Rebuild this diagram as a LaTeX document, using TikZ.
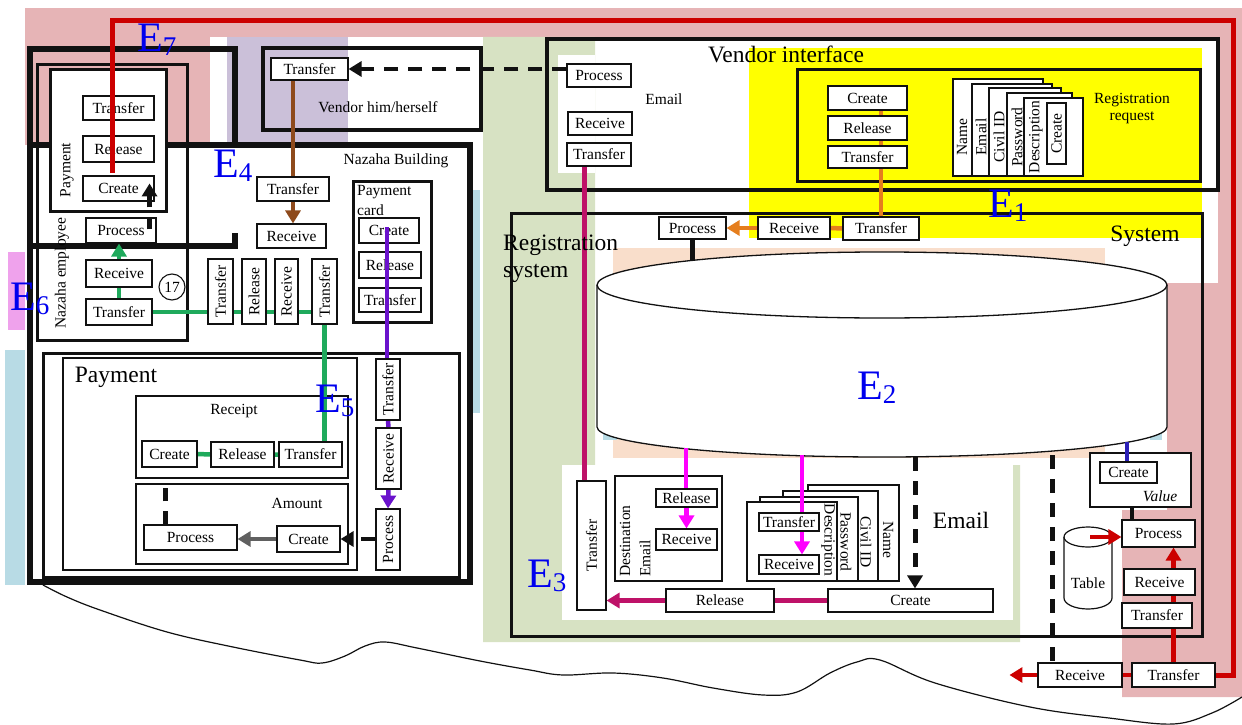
\documentclass[tikz,border=0pt]{standalone}
\usepackage{fontspec}
\setmainfont{Liberation Serif}
\usepackage{graphicx}
\usetikzlibrary{arrows.meta,calc,positioning}
\definecolor{ink}{HTML}{111111}
\definecolor{rosebg}{HTML}{E6B4B6}
\definecolor{lavbg}{HTML}{CBC0D9}
\definecolor{sagebg}{HTML}{D7E2C3}
\definecolor{peachbg}{HTML}{F9DECB}
\definecolor{yelbg}{HTML}{FFFF00}
\definecolor{magbg}{HTML}{EFA2EC}
\definecolor{skybg}{HTML}{B8DBE5}
\definecolor{ered}{HTML}{CC0000}
\definecolor{ebrown}{HTML}{8E4A1C}
\definecolor{egreen}{HTML}{1FAA5C}
\definecolor{epurple}{HTML}{6A12CC}
\definecolor{eorange}{HTML}{E57E1E}
\definecolor{ecrim}{HTML}{BE1268}
\definecolor{emag}{HTML}{FF00FF}
\definecolor{evalue}{HTML}{2B20B8}
\definecolor{egray}{HTML}{606060}
\definecolor{eblue}{HTML}{0000EE}
\pgfdeclarelayer{fills}
\pgfdeclarelayer{links}
\pgfsetlayers{fills,links,main}
\tikzset{
  bx/.style={draw=ink,fill=white,line width=1.1pt,inner sep=0pt,font=\fontsize{15.5}{17}\selectfont},
  lbl/.style={inner sep=0pt,font=\fontsize{15.5}{17}\selectfont},
  big/.style={inner sep=0pt,font=\fontsize{23.5}{26}\selectfont},
  elbl/.style={inner sep=0pt,text=eblue,anchor=base west,font=\fontsize{42}{42}\selectfont},
  ln/.style={line width=4.5pt},
  arr/.style={line width=4.5pt,->},
  dsh/.style={ink,line width=5pt,dash pattern=on 14pt off 10pt},
  card/.style={draw=ink,fill=white,line width=1.2pt},
}

\begin{document}
\begin{tikzpicture}[x=1pt,y=-1pt,>={Triangle[length=13pt,width=15pt]}]
  \newcommand{\bxh}[6]{%
    \node[bx,minimum width={(#4-#2)*1pt},minimum height={(#5-#3)*1pt}] (#1) at ({(#2+#4)/2},{(#3+#5)/2}) {#6};}
  \newcommand{\bxv}[6]{%
    \node[bx,minimum width={(#4-#2)*1pt},minimum height={(#5-#3)*1pt}] (#1) at ({(#2+#4)/2},{(#3+#5)/2}) {\rotatebox{90}{#6}};}
  \newcommand{\elab}[4]{%
    \node[elbl] (#1) at (#2,#3) {E\raisebox{-4pt}{\fontsize{27}{27}\selectfont #4}};}
  \useasboundingbox (0,0) rectangle (1242,725);

  \begin{pgfonlayer}{fills}
    % coloured zones
    \fill[rosebg] (25,8) rectangle (1242,37);
    \fill[rosebg] (25,37) rectangle (210,145);
    \fill[lavbg] (227,37) rectangle (348,145);
    \fill[rosebg] (1218,37) -- (1242,37) -- (1242,697) -- (1122,697) -- (1122,510)
      -- (1167,510) -- (1167,283) -- (1218,283) -- cycle;
    \fill[sagebg] (483,37) -- (595,37) -- (595,465) -- (1020,465) -- (1020,642) -- (483,642) -- cycle;
    \fill[white] (562,465) rectangle (1013,620);
    \fill[white] (558,55) rectangle (595,173);
    \fill[yelbg] (749,48) rectangle (1202,238);
    \fill[peachbg] (613,248) rectangle (1105,458);
    \fill[magbg] (8,252) rectangle (25,330);
    \fill[skybg] (5,350) rectangle (25,585);
    \fill[skybg] (473,190) rectangle (480,413);
    \fill[skybg] (603,432) rectangle (617,440);
    \fill[skybg] (1150,430) rectangle (1162,440);
    % frames
    \draw[ink,line width=6pt] (235,145) -- (235,49) -- (30,49) -- (30,246) -- (235,246) -- (235,233);
    \draw[ink,line width=6pt] (30,145) rectangle (470,582);
    \draw[ink,line width=3pt] (37,65) rectangle (187,340);
    \draw[ink,line width=3pt,fill=white] (50,70) rectangle (166,211);
    \draw[ink,line width=4pt] (263,48) rectangle (481,130);
    \draw[ink,line width=3pt] (353,181) rectangle (431,322);
    \draw[ink,line width=3pt] (43,353) rectangle (459,577);
    \draw[ink,line width=1.5pt] (63,358) rectangle (357,570);
    \draw[ink,line width=2pt] (136,396) rectangle (348,478);
    \draw[ink,line width=2pt] (136,484) rectangle (348,564);
    \draw[ink,line width=4pt] (547,39) rectangle (1218,190);
    \draw[ink,line width=3pt] (797,70) rectangle (1200,181);
    \draw[ink,line width=3pt] (511,213) rectangle (1202,636);
    \draw[ink,line width=2pt,fill=white] (1090,453) rectangle (1191,507);
    \draw[ink,line width=1.5pt,fill=white] (615,476) rectangle (722,581);
    % database
    \filldraw[fill=white,draw=ink,line width=1.3pt] (597,285) -- (597,427)
      arc[start angle=180,end angle=0,x radius=285,y radius=30] -- (1167,285);
    \draw[fill=white,draw=ink,line width=1.3pt] (882,285) ellipse[x radius=285,y radius=33];
    \filldraw[fill=white,draw=ink,line width=1.2pt] (1064,537) -- (1064,598)
      arc[start angle=180,end angle=0,x radius=24,y radius=11] -- (1112,537);
    \draw[fill=white,draw=ink,line width=1.2pt] (1088,537) ellipse[x radius=24,y radius=10];
    % stacked records
    \foreach \a/\b/\c in {953/79/1043,972/84/1052,989/88/1061,1007/93/1072,1024/98/1083}
      \draw[card] (\a,\b) rectangle (\c,176);
    \foreach \a/\b/\c in {808/485/899,783/491/878,760/497/858,747/502/837}
      \draw[card] (\a,\b) rectangle (\c,581);
    \draw[ink,line width=1.2pt] plot[smooth,tension=0.6] coordinates {(43,585) (67,597) (100,610)
      (167,632) (233,647) (300,660) (322,663) (345,656) (365,646) (385,642) (417,648) (480,661)
      (530,670) (563,675) (613,673) (663,678) (713,688) (763,695) (797,692) (830,673) (857,662)
      (880,660) (935,683) (1030,707) (1109,718) (1173,724) (1212,713) (1242,697)};
  \end{pgfonlayer}

  % boxes
  \bxh{pTr}{83}{96}{154}{120}{Transfer}
  \bxh{pRe}{83}{136}{154}{162}{Release}
  \bxh{pCr}{83}{176}{154}{201}{Create}
  \bxh{nPr}{86}{218}{156}{243}{Process}
  \bxh{nRc}{86}{260}{152}{287}{Receive}
  \bxh{nTr}{86}{299}{152}{325}{Transfer}
  \bxv{vA}{208}{259}{233}{324}{Transfer}
  \bxv{vB}{242}{259}{266}{324}{Release}
  \bxv{vC}{275}{259}{298}{324}{Receive}
  \bxv{vD}{312}{259}{337}{324}{Transfer}
  \bxh{vTr}{271}{58}{348}{80}{Transfer}
  \bxh{bTr}{257}{177}{329}{201}{Transfer}
  \bxh{bRc}{257}{224}{326}{248}{Receive}
  \bxh{cCr}{359}{218}{419}{243}{Create}
  \bxh{cRe}{359}{252}{421}{278}{Release}
  \bxh{cTr}{359}{288}{421}{312}{Transfer}
  \bxh{rCr}{142}{441}{197}{467}{Create}
  \bxh{rRe}{211}{442}{274}{467}{Release}
  \bxh{rTr}{279}{442}{342}{467}{Transfer}
  \bxh{aPr}{144}{525}{237}{550}{Process}
  \bxh{aCr}{277}{526}{340}{552}{Create}
  \bxv{wTr}{376}{359}{400}{420}{Transfer}
  \bxv{wRc}{376}{428}{401}{489}{Receive}
  \bxv{wPr}{376}{509}{400}{570}{Process}
  \bxh{ePr}{567}{64}{631}{87}{Process}
  \bxh{eRc}{568}{112}{632}{135}{Receive}
  \bxh{eTr}{567}{143}{631}{166}{Transfer}
  \bxh{gCr}{828}{86}{907}{110}{Create}
  \bxh{gRe}{828}{116}{907}{140}{Release}
  \bxh{gTr}{828}{146}{907}{168}{Transfer}
  \bxh{sPr}{659}{217}{726}{239}{Process}
  \bxh{sRc}{758}{217}{830}{239}{Receive}
  \bxh{sTr}{843}{217}{919}{240}{Transfer}
  \bxv{xTr}{577}{481}{606}{610}{Transfer}
  \bxh{dRe}{656}{489}{717}{507}{Release}
  \bxh{dRc}{656}{529}{717}{550}{Receive}
  \bxh{kTr}{759}{513}{819}{531}{Transfer}
  \bxh{kRc}{759}{555}{819}{574}{Receive}
  \bxh{mRl}{666}{589}{774}{612}{Release}
  \bxh{mCr}{828}{589}{993}{612}{Create}
  \bxh{vCr}{1100}{462}{1157}{483}{Create}
  \bxh{zPr}{1122}{520}{1195}{547}{Process}
  \bxh{zRc}{1124}{569}{1195}{595}{Receive}
  \bxh{zTr}{1122}{603}{1192}{628}{Transfer}
  \bxh{yRc}{1038}{663}{1122}{687}{Receive}
  \bxh{yTr}{1132}{663}{1215}{687}{Transfer}
  \bxv{qCr}{1047}{103}{1066}{164}{Create}
  \node[bx,circle,minimum size=26pt] (n17) at (172,287) {17};

  % labels
  \node[big] (tVend) at (786,54) {Vendor interface};
  \node[lbl] (tVhh) at (378,107) {Vendor him/herself};
  \node[lbl] (tEmA) at (664,99) {Email};
  \node[lbl] (tNaz) at (396,161) {Nazaha Building};
  \node[lbl,anchor=west] (tPcA) at (357,192) {Payment};
  \node[lbl,anchor=west] (tPcB) at (357,210) {card};
  \node[lbl,rotate=90] (tPayA) at (67,170) {Payment};
  \node[lbl,rotate=90] (tEmp) at (62,273) {Nazaha employee};
  \node[big] (tPayB) at (116,377) {Payment};
  \node[lbl] (tRcp) at (234,411) {Receipt};
  \node[lbl] (tAmt) at (297,503) {Amount};
  \node[big] (tSys) at (1145,236) {System};
  \node[big,anchor=base west] (tRegA) at (503,250) {Registration};
  \node[big,anchor=base west] (tRegB) at (503,277) {system};
  \node[lbl] (tRqA) at (1132,100) {Registration};
  \node[lbl] (tRqB) at (1132,118) {request};
  \node[big] (tEmB) at (961,520) {Email};
  \node[lbl,font=\fontsize{15.5}{17}\selectfont\itshape] (tVal) at (1160,496) {Value};
  \node[lbl] (tTab) at (1088,583) {Table};
  \node[lbl,rotate=90,anchor=west] (tDst) at (625,577) {Destination};
  \node[lbl,rotate=90,anchor=west] (tDem) at (645,577) {Email};
  \foreach \x/\t [count=\i] in {962/Name,981/Email,999/Civil ID,1017/Password,1036/Description}
    \node[lbl,rotate=90] (fq\i) at (\x,137) {\t};
  \foreach \x/\y/\t [count=\i] in {888/540/Name,866/542/Civil ID,846/542/Password,828/540/Description}
    \node[lbl,rotate=-90] (fk\i) at (\x,\y) {\t};
  \elab{eS}{137}{52}{7}
  \elab{eD}{213}{177}{4}
  \elab{eF}{10}{310}{6}
  \elab{eE}{315}{412}{5}
  \elab{eA}{988}{217}{1}
  \elab{eB}{857}{399}{2}
  \elab{eC}{527}{587}{3}

  \coordinate (xTrIn) at ($(xTr.north)+(-7,0)$);
  \coordinate (cylA) at (686,448);
  \coordinate (cylB) at (802,455);
  \coordinate (cylC) at (915,457);
  \coordinate (cylD) at (1052,455);
  \coordinate (cylE) at (1127,442);
  \coordinate (valB) at (1132,507);
  \coordinate (tbl) at (1090,537);
  \coordinate (redS) at (112,173);
  \coordinate (redC) at (1233,21);
  \coordinate (purS) at (387,227);

  \begin{pgfonlayer}{links}
    \draw[ln,ebrown] (vTr.south -| bTr.north) -- (bTr.north);
    \draw[arr,ebrown] (bTr.south) -- (bTr.south |- bRc.north);
    \draw[arr,egreen] (nTr.north) -- (nTr.north |- nPr.south);
    \draw[ln,egreen] (nTr.east) -- (nTr.east -| vA.west)
      (nTr.east -| vA.east) -- (nTr.east -| vB.west)
      (nTr.east -| vB.east) -- (nTr.east -| vC.west)
      (nTr.east -| vC.east) -- (nTr.east -| vD.west);
    \draw[ln,egreen] (vD.south) -- (vD.south |- rTr.north);
    \draw[ln,egreen] (rTr.west) -- (rRe.east) (rRe.west) -- (rCr.east);
    \draw[ln,epurple] (wTr.south) -- (wRc.north);
    \draw[arr,epurple] (wRc.south) -- (wPr.north);
    \draw[dsh,line width=4pt,->] (wPr.west |- aCr.east) -- (aCr.east);
    \draw[arr,egray] (aCr.west) -- (aCr.west -| aPr.east);
    \draw[dsh,dash pattern=on 13pt off 10pt] ($(aPr.north)+(-25,0)$) -- ++(0,-38);
    \draw[dsh,line width=4pt,->] (ePr.west |- vTr.east) -- (vTr.east);
    \draw[ln,eorange] (gCr.south -| sTr.north) -- (sTr.north);
    \draw[ln,eorange] (sRc.east) -- (sTr.west);
    \draw[arr,eorange] (sRc.west) -- (sPr.east);
    \draw[ln,ink] (sPr.south) -- ++(0,20);
    \draw[ln,ecrim] (eTr.south -| xTrIn) -- (xTrIn);
    \draw[ln,ecrim] (mCr.west) -- (mRl.east);
    \draw[arr,ecrim] (mRl.west) -- (xTr.east |- mRl.west);
    \draw[ln,emag] (cylA) -- (cylA |- dRe.north);
    \draw[arr,emag] (dRe.south) -- (dRc.north);
    \draw[ln,emag] (cylB) -- (cylB |- kTr.north);
    \draw[arr,emag] (cylB |- kTr.south) -- (cylB |- kRc.north);
    \draw[dsh,->] (cylC) -- (cylC |- mCr.north);
    \draw[dsh] (cylD) -- (cylD |- yRc.north);
    \draw[ln,evalue] (cylE) -- (cylE |- vCr.north);
    \draw[ln,ink] (valB) -- (valB |- zPr.north);
    \draw[arr,ered] (tbl) -- (tbl -| zPr.west);
    \draw[ln,ered] (yTr.north) -- (yTr.north |- zTr.south)
      (yTr.north |- zTr.north) -- (yTr.north |- zRc.south);
    \draw[arr,ered] (yTr.north |- zRc.north) -- (yTr.north |- zPr.south);
    \draw[ln,ered] (yTr.west) -- (yRc.east);
    \draw[arr,ered] (yRc.west) -- ++(-28,0);
  \end{pgfonlayer}

  % lines over the boxes
  \draw[ered,line width=5pt] (redS) |- (redC) |- (yTr.east);
  \draw[ln,epurple] (purS) -- (purS |- wTr.north);
  \draw[dsh,dash pattern=on 12pt off 10pt,->] ($(nPr.north east)+(-7,12)$) -- ($(pCr.north east)+(-5,8)$);
\end{tikzpicture}
\end{document}
